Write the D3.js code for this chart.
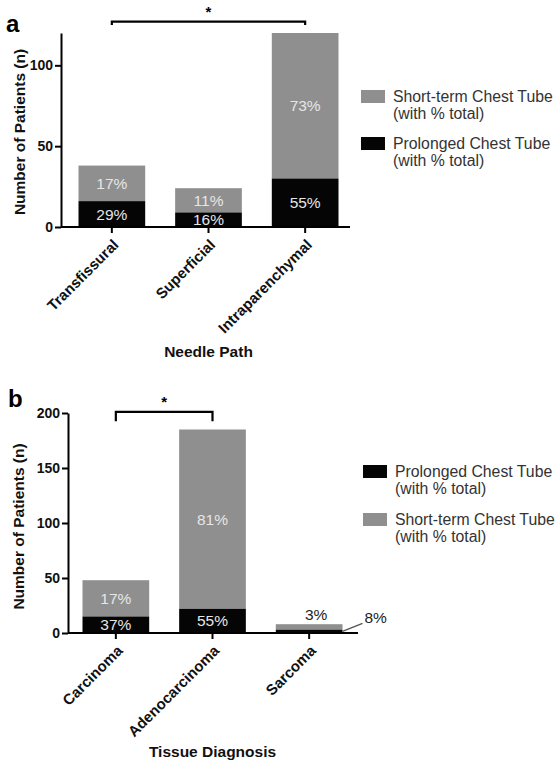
<!DOCTYPE html>
<html>
<head>
<meta charset="utf-8">
<script src="https://cdn.jsdelivr.net/npm/d3@7/dist/d3.min.js"></script>
<style>
  html, body { margin: 0; padding: 0; background: #fff; }
  svg { display: block; font-family: "Liberation Sans", Arial, Helvetica, sans-serif; }
</style>
</head>
<body>
<svg id="chart" width="558" height="766"></svg>
<script>
// ---- Data (panel a: needle path) ----
const pathCategories = ["Transfissural", "Superficial", "Intraparenchymal"];
const pathProlonged = [16, 9, 30];
const pathShortTerm = [22, 15, 90];
const pathProlongedPct = ["29%", "16%", "55%"];
const pathShortPct = ["17%", "11%", "73%"];
const pathTicks = [0, 50, 100];

// ---- Data (panel b: tissue diagnosis) ----
const diagCategories = ["Carcinoma", "Adenocarcinoma", "Sarcoma"];
const diagProlonged = [15, 22, 3];
const diagShortTerm = [33, 163, 5];
const diagProlongedPct = ["37%", "55%", "8%"];
const diagShortPct = ["17%", "81%", "3%"];
const diagTicks = [0, 50, 100, 150, 200];

const seriesNames = {
  short: ["Short-term Chest Tube", "(with % total)"],
  prolonged: ["Prolonged Chest Tube", "(with % total)"]
};

const GRAY = "#8f8f8f", BLACK = "#050505";
const svg = d3.select("#chart");

function panel(cfg) {
  const g = svg.append("g");
  const y = d3.scaleLinear().domain(cfg.yDomain).range([cfg.y0, cfg.y1]);
  const x = d3.scaleBand().domain(cfg.cats).range(cfg.xRange).paddingInner(0.31).paddingOuter(0.15);

  // bars
  cfg.cats.forEach((c, i) => {
    const p = cfg.prolonged[i], s = cfg.short[i];
    g.append("rect").attr("x", x(c)).attr("width", x.bandwidth())
      .attr("y", y(p + s)).attr("height", y(p) - y(p + s)).attr("fill", GRAY);
    g.append("rect").attr("x", x(c)).attr("width", x.bandwidth())
      .attr("y", y(p)).attr("height", y(0) - y(p)).attr("fill", BLACK);
  });

  // percentage labels
  cfg.cats.forEach((c, i) => {
    const p = cfg.prolonged[i], s = cfg.short[i];
    const cx = x(c) + x.bandwidth() / 2;
    if (cfg.outside && cfg.outside[i]) return;
    g.append("text").attr("x", cx).attr("y", y(p + s / 2)).attr("dy", "0.36em")
      .attr("text-anchor", "middle").attr("font-size", 15.5).attr("fill", "#e6e6e6")
      .text(cfg.shortPct[i]);
    g.append("text").attr("x", cx).attr("y", y(p / 2)).attr("dy", "0.36em")
      .attr("text-anchor", "middle").attr("font-size", 15.5).attr("fill", "#e6e6e6")
      .text(cfg.prolongedPct[i]);
  });

  // y axis
  const ya = g.append("g").attr("transform", `translate(${cfg.xAxisX},0)`)
    .call(d3.axisLeft(y).tickValues(cfg.ticks).tickSize(6).tickPadding(2).tickSizeOuter(0));
  ya.select(".domain").attr("stroke-width", 2);
  ya.selectAll(".tick line").attr("stroke-width", 2);
  ya.selectAll(".tick text").attr("font-size", 14).attr("font-weight", "bold")
    .attr("font-family", "Liberation Sans, Arial, sans-serif").attr("fill", "#111");

  // x axis
  const xa = g.append("g").attr("transform", `translate(0,${cfg.y0})`)
    .call(d3.axisBottom(x).tickSize(6).tickSizeOuter(0));
  xa.select(".domain").remove();
  g.append("line").attr("x1", cfg.xAxisX).attr("x2", cfg.xAxisEnd)
    .attr("y1", cfg.y0).attr("y2", cfg.y0).attr("stroke", "#000").attr("stroke-width", 2);
  xa.selectAll(".tick line").attr("stroke-width", 2);
  xa.selectAll(".tick text").attr("y", 0).attr("dy", "0.35em")
    .attr("transform", "translate(4,15) rotate(-45)")
    .attr("text-anchor", "end").attr("font-size", 15).attr("font-weight", "bold")
    .attr("font-family", "Liberation Sans, Arial, sans-serif").attr("fill", "#111");

  // y title
  g.append("text").attr("transform", `translate(${cfg.yTitleX},${(cfg.y0 + cfg.yTitleTop) / 2}) rotate(-90)`)
    .attr("text-anchor", "middle").attr("dy", "0.35em").attr("font-size", 15.5).attr("font-weight", "bold")
    .attr("fill", "#111").text("Number of Patients (n)");

  // x title
  g.append("text").attr("x", x(cfg.cats[1]) + x.bandwidth() / 2).attr("y", cfg.xTitleY)
    .attr("text-anchor", "middle").attr("font-size", 15.5).attr("font-weight", "bold")
    .attr("fill", "#111").text(cfg.xTitle);

  // panel letter
  g.append("text").attr("x", cfg.letterX).attr("y", cfg.letterY).attr("font-size", 24)
    .attr("font-weight", "bold").attr("fill", "#000").text(cfg.letter);

  // significance bracket
  const bx1 = x(cfg.bracket[0]) + x.bandwidth() / 2, bx2 = x(cfg.bracket[1]) + x.bandwidth() / 2;
  const by = y(cfg.bracketLevel), byEnd = y(cfg.bracketEnd);
  g.append("path").attr("d", `M${bx1},${byEnd}V${by}H${bx2}V${byEnd}`)
    .attr("fill", "none").attr("stroke", "#000").attr("stroke-width", 2.2);
  g.append("text").attr("x", (bx1 + bx2) / 2).attr("y", by - 5).attr("text-anchor", "middle")
    .attr("font-size", 15).attr("font-weight", "bold").text("*");

  // legend
  cfg.legend.forEach((item, k) => {
    const ly = cfg.legendY + k * cfg.legendGap;
    g.append("rect").attr("x", cfg.legendX).attr("y", ly).attr("width", 24).attr("height", 13)
      .attr("fill", item.color);
    item.lines.forEach((t, j) => {
      g.append("text").attr("x", cfg.legendX + 32).attr("y", ly + 12 + j * 17)
        .attr("font-size", 15.8).attr("fill", "#333").text(t);
    });
  });
  return { g, x, y };
}

// Panel a
panel({
  cats: pathCategories, prolonged: pathProlonged, short: pathShortTerm,
  prolongedPct: pathProlongedPct, shortPct: pathShortPct, ticks: pathTicks,
  yDomain: [0, 120], y0: 227, y1: 33, xRange: [64, 353], xAxisX: 61, xAxisEnd: 350,
  yTitleX: 20, yTitleTop: 37, xTitle: "Needle Path", xTitleY: 357,
  letter: "a", letterX: 6, letterY: 32,
  bracket: [pathCategories[0], pathCategories[2]], bracketLevel: 127, bracketEnd: 125,
  legendX: 361, legendY: 90, legendGap: 47,
  legend: [{ color: GRAY, lines: seriesNames.short }, { color: BLACK, lines: seriesNames.prolonged }]
});

// Panel b
const pb = panel({
  cats: diagCategories, prolonged: diagProlonged, short: diagShortTerm,
  prolongedPct: diagProlongedPct, shortPct: diagShortPct, ticks: diagTicks,
  yDomain: [0, 200], y0: 633, y1: 413, xRange: [68, 357], xAxisX: 68, xAxisEnd: 358,
  yTitleX: 19, yTitleTop: 420, xTitle: "Tissue Diagnosis", xTitleY: 757,
  letter: "b", letterX: 8, letterY: 407,
  bracket: [diagCategories[0], diagCategories[1]], bracketLevel: 201, bracketEnd: 192.5,
  outside: [false, false, true],
  legendX: 363, legendY: 465, legendGap: 48,
  legend: [{ color: BLACK, lines: seriesNames.prolonged }, { color: GRAY, lines: seriesNames.short }]
});

// Sarcoma labels outside the small bar
{
  const { g, x, y } = pb;
  const c = diagCategories[2];
  const cx = x(c) + x.bandwidth() / 2;
  const total = diagProlonged[2] + diagShortTerm[2];
  g.append("text").attr("x", cx + 7).attr("y", y(total) - 4).attr("text-anchor", "middle")
    .attr("font-size", 15.5).attr("fill", "#222").text(diagShortPct[2]);
  const ex = x(c) + x.bandwidth();
  g.append("line").attr("x1", ex).attr("y1", y(diagProlonged[2] / 2))
    .attr("x2", ex + 20).attr("y2", y(diagProlonged[2] / 2) - 8)
    .attr("stroke", "#555").attr("stroke-width", 1.5);
  g.append("text").attr("x", ex + 22).attr("y", y(diagProlonged[2] / 2) - 8)
    .attr("font-size", 15.5).attr("fill", "#222").text(diagProlongedPct[2]);
}
</script>
</body>
</html>
